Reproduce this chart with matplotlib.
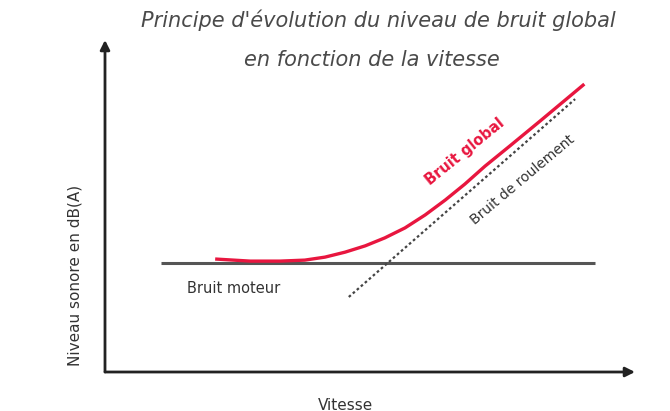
import matplotlib
matplotlib.use("Agg")
import matplotlib.pyplot as plt

# Vitesse (unités arbitraires) et niveaux sonores (unités arbitraires)
vitesse_global = [21.1, 27.4, 33.0, 37.7, 41.5, 45.3, 49.1, 52.8, 56.6,
                  60.4, 64.2, 67.9, 71.7, 76.4, 82.1, 90.2]
bruit_global = [34.0, 33.4, 33.4, 33.7, 34.6, 36.1, 38.0, 40.4, 43.4,
                47.3, 51.8, 56.6, 62.0, 68.1, 75.6, 86.4]

vitesse_moteur = [10.5, 92.5]
bruit_moteur = [32.8, 32.8]

vitesse_roulement = [46, 88.7]
bruit_roulement = [22.6, 82.2]

W, H = 670, 411
fig = plt.figure(figsize=(W / 100, H / 100), dpi=100)
x0, y0, x1, y1 = 105, 372, 635, 40
ax = fig.add_axes([x0 / W, 1 - y0 / H, (x1 - x0) / W, (y0 - y1) / H])
ax.set_xlim(0, 100)
ax.set_ylim(0, 100)
for s in ax.spines.values():
    s.set_visible(False)
ax.set_xticks([])
ax.set_yticks([])

# Axes with arrows
ax.annotate("", xy=(100, 0), xytext=(0, 0),
            arrowprops=dict(arrowstyle="-|>", lw=2, color="#222222",
                            mutation_scale=14, shrinkA=0, shrinkB=0))
ax.annotate("", xy=(0, 100), xytext=(0, 0),
            arrowprops=dict(arrowstyle="-|>", lw=2, color="#222222",
                            mutation_scale=14, shrinkA=0, shrinkB=0))

ax.plot(vitesse_moteur, bruit_moteur, color="#555555", lw=2.2, solid_capstyle="butt")
ax.plot(vitesse_roulement, bruit_roulement, color="#444444", lw=1.6,
        linestyle=(0, (1.2, 1.2)))
ax.plot(vitesse_global, bruit_global, color="#e8163f", lw=2.4,
        solid_joinstyle="round")

ax.text(67.9, 66.3, "Bruit global", color="#e8163f", fontsize=10.5,
        fontweight="bold", rotation=39, ha="center", va="center",
        rotation_mode="anchor")
ax.text(78.7, 57.8, "Bruit de roulement", color="#333333", fontsize=10,
        rotation=40, ha="center", va="center", rotation_mode="anchor")
ax.text(24.2, 25.3, "Bruit moteur", color="#333333", fontsize=10.5,
        ha="center", va="center")

fig.text(378 / W, 1 - 20 / H, "Principe d'évolution du niveau de bruit global",
         ha="center", va="center", fontsize=15, style="italic", color="#4a4a4a")
fig.text(372 / W, 1 - 60 / H, "en fonction de la vitesse",
         ha="center", va="center", fontsize=15, style="italic", color="#4a4a4a")
fig.text(75 / W, 1 - 275 / H, "Niveau sonore en dB(A)", rotation=90,
         ha="center", va="center", fontsize=11, color="#333333")
fig.text(345 / W, 1 - 405 / H, "Vitesse", ha="center", va="center",
         fontsize=11, color="#333333")

fig.savefig("out.png", dpi=100)
